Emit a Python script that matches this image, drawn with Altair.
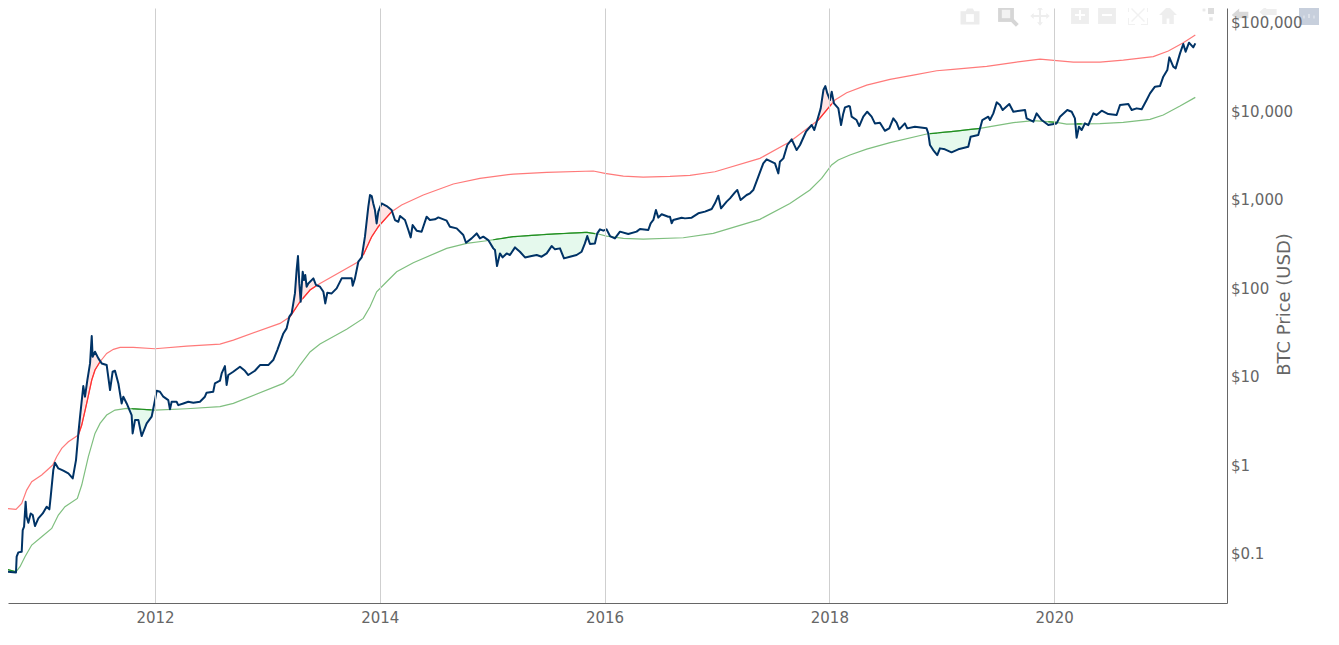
import altair as alt
import numpy as np
import pandas as pd

# Decimal year and log10(USD) values
price_year = [
    2010.63,2010.68,2010.763,2010.769,2010.784,2010.814,2010.823,2010.835,2010.849,2010.858,2010.873,2010.894,2010.912,2010.932,2010.962,
    2011.001,2011.036,2011.06,2011.072,2011.095,2011.11,2011.14,2011.184,2011.229,2011.268,2011.297,2011.318,2011.333,2011.362,2011.377,2011.398,2011.422,2011.437,2011.445,2011.466,2011.496,2011.526,2011.57,2011.6,2011.623,2011.644,2011.674,2011.703,2011.718,2011.748,2011.792,2011.801,2011.822,2011.852,2011.881,2011.926,2011.97,
    2012.0,2012.015,2012.044,2012.074,2012.118,2012.133,2012.148,2012.192,2012.207,2012.252,2012.296,2012.341,2012.4,2012.444,2012.459,2012.518,2012.533,2012.578,2012.593,2012.622,2012.637,2012.652,2012.696,2012.756,2012.8,2012.83,2012.889,2012.934,
    2013.008,2013.052,2013.088,2013.142,2013.171,2013.195,2013.216,2013.245,2013.26,2013.272,2013.284,2013.296,2013.314,2013.326,2013.337,2013.349,2013.364,2013.409,2013.432,2013.468,2013.498,2013.515,2013.533,2013.572,2013.616,2013.661,2013.75,2013.759,2013.779,2013.809,2013.839,2013.868,2013.898,2013.913,2013.928,2013.942,2013.957,2013.972,2013.987,
    2014.016,2014.061,2014.105,2014.135,2014.165,2014.18,2014.224,2014.254,2014.275,2014.292,2014.328,2014.372,2014.417,2014.446,2014.491,2014.521,2014.595,2014.624,2014.684,2014.743,2014.767,2014.817,2014.862,2014.891,2014.921,2014.965,
    2015.01,2015.025,2015.043,2015.069,2015.093,2015.129,2015.158,2015.203,2015.247,2015.292,2015.351,2015.396,2015.44,2015.485,2015.529,2015.559,2015.603,2015.639,2015.692,2015.751,2015.796,2015.825,2015.846,2015.87,2015.914,2015.935,2015.959,2015.989,
    2016.018,2016.048,2016.092,2016.137,2016.211,2016.285,2016.315,2016.389,2016.41,2016.434,2016.457,2016.478,2016.508,2016.567,2016.582,2016.597,2016.611,2016.686,2016.715,2016.775,2016.834,2016.893,2016.953,2016.982,
    2017.012,2017.036,2017.086,2017.116,2017.16,2017.181,2017.21,2017.264,2017.294,2017.323,2017.368,2017.412,2017.442,2017.516,2017.546,2017.56,2017.591,2017.626,2017.665,2017.709,2017.739,2017.792,2017.843,2017.866,2017.893,2017.923,2017.947,2017.964,2017.982,
    2018.006,2018.021,2018.041,2018.08,2018.104,2018.124,2018.139,2018.175,2018.183,2018.198,2018.242,2018.266,2018.302,2018.337,2018.376,2018.405,2018.45,2018.494,2018.533,2018.569,2018.598,2018.622,2018.672,2018.693,2018.761,2018.865,2018.88,2018.895,2018.924,2018.96,2018.984,
    2019.028,2019.087,2019.147,2019.236,2019.257,2019.325,2019.361,2019.414,2019.429,2019.459,2019.489,2019.518,2019.542,2019.601,2019.637,2019.741,2019.755,2019.815,2019.844,2019.889,2019.948,
    2020.022,2020.052,2020.117,2020.156,2020.185,2020.2,2020.221,2020.245,2020.274,2020.304,2020.349,2020.378,2020.423,2020.482,2020.556,2020.586,2020.66,2020.69,2020.734,2020.779,2020.823,2020.853,2020.897,2020.942,2020.971,
    2021.007,2021.025,2021.06,2021.081,2021.12,2021.149,2021.17,2021.2,2021.238,2021.256,
]
price_log = [
    -1.168,-1.206,-1.213,-1.036,-0.987,-0.98,-0.735,-0.697,-0.415,-0.584,-0.652,-0.547,-0.565,-0.69,-0.603,
    -0.547,-0.471,-0.501,-0.358,-0.057,0.026,-0.038,-0.064,-0.095,-0.151,0.056,0.357,0.546,0.892,0.772,0.96,1.148,1.457,1.224,1.28,1.205,1.148,1.13,0.847,1.054,1.066,0.922,0.696,0.772,0.696,0.565,0.357,0.508,0.508,0.327,0.47,0.546,
    0.734,0.84,0.828,0.772,0.734,0.629,0.715,0.715,0.677,0.696,0.715,0.704,0.715,0.772,0.817,0.828,0.922,0.953,1.035,1.118,0.904,1.017,1.054,1.111,1.065,1.017,1.065,1.129,
    1.129,1.186,1.299,1.487,1.544,1.676,1.713,1.939,2.203,2.361,2.052,1.845,2.184,2.09,2.147,2.015,2.052,2.109,2.034,2.015,1.958,1.826,1.947,1.939,1.996,2.109,2.109,2.026,2.109,2.297,2.346,2.58,2.919,3.051,3.039,2.956,2.881,2.73,2.862,
    2.956,2.926,2.881,2.768,2.749,2.813,2.768,2.655,2.572,2.711,2.648,2.636,2.806,2.768,2.776,2.798,2.761,2.693,2.674,2.599,2.512,2.561,2.617,2.561,2.58,2.542,
    2.448,2.429,2.248,2.391,2.346,2.391,2.373,2.459,2.41,2.346,2.361,2.373,2.354,2.391,2.474,2.437,2.448,2.335,2.354,2.373,2.41,2.504,2.587,2.497,2.504,2.617,2.663,2.648,
    2.663,2.587,2.561,2.637,2.61,2.637,2.667,2.656,2.731,2.769,2.882,2.795,2.833,2.806,2.806,2.731,2.769,2.795,2.787,2.795,2.844,2.863,2.893,2.957,
    3.043,2.9,2.976,3.013,3.081,3.108,2.994,3.051,3.07,3.107,3.258,3.408,3.454,3.408,3.295,3.427,3.465,3.616,3.68,3.559,3.616,3.766,3.842,3.785,3.898,4.03,4.237,4.282,4.199,
    4.124,4.218,4.086,4.03,3.842,3.973,4.041,4.056,4.049,3.936,3.898,3.83,3.936,3.992,3.936,3.86,3.868,3.777,3.804,3.917,3.868,3.793,3.86,3.804,3.823,3.804,3.747,3.616,3.559,3.502,3.578,
    3.567,3.533,3.567,3.597,3.71,3.729,3.898,3.936,3.898,3.973,4.098,4.068,4.011,4.079,3.992,4.011,3.917,3.879,3.973,3.898,3.842,
    3.86,3.936,4.011,3.992,3.917,3.698,3.823,3.785,3.86,3.841,3.973,3.955,4.004,3.966,3.955,4.068,4.079,4.011,4.03,4.019,4.124,4.199,4.275,4.282,4.388,
    4.463,4.606,4.501,4.482,4.651,4.757,4.67,4.772,4.719,4.764,
]
upper_year = [
    2010.63,2010.68,2010.763,2010.814,2010.858,2010.903,2010.992,2011.09,2011.125,2011.17,2011.229,2011.318,2011.348,2011.392,2011.437,2011.466,2011.511,2011.57,2011.63,2011.689,2011.807,
    2012.0,2012.282,2012.578,2012.697,2013.112,2013.201,2013.29,2013.379,2013.468,2013.809,2013.853,2013.928,2013.987,
    2014.105,2014.194,2014.387,2014.654,2014.891,2015.188,2015.485,2015.9,2016.003,2016.167,2016.344,2016.582,2016.76,2016.982,
    2017.382,2017.649,2017.902,2018.05,2018.154,2018.332,2018.54,2018.747,2018.955,2019.1,2019.4,2019.65,2019.874,
    2020.022,2020.171,2020.408,2020.615,2020.882,2021.016,2021.149,2021.256,
]
upper_log = [
    -0.464,-0.49,-0.501,-0.434,-0.283,-0.189,-0.113,0.0,0.094,0.188,0.263,0.339,0.452,0.696,0.96,1.073,1.167,1.261,1.307,1.329,1.329,
    1.314,1.344,1.367,1.412,1.6,1.676,1.845,1.977,2.052,2.297,2.373,2.58,2.693,
    2.862,2.938,3.051,3.175,3.239,3.288,3.307,3.322,3.295,3.265,3.254,3.261,3.273,3.314,
    3.465,3.653,3.898,4.124,4.207,4.293,4.358,4.406,4.455,4.47,4.505,4.55,4.587,
    4.569,4.553,4.553,4.576,4.614,4.678,4.772,4.859,
]
lower_year = [
    2010.63,2010.763,2010.799,2010.843,2010.903,2010.992,2011.081,2011.14,2011.199,2011.309,2011.348,2011.407,2011.466,2011.511,2011.57,2011.644,2011.748,
    2012.0,2012.282,2012.578,2012.697,2013.142,2013.23,2013.29,2013.379,2013.468,2013.705,2013.853,2013.913,2013.972,
    2014.061,2014.15,2014.298,2014.595,2014.773,2014.951,2015.188,2015.485,2015.84,2015.944,2016.018,2016.167,2016.344,2016.7,2016.967,
    2017.382,2017.649,2017.827,2017.931,2018.02,2018.079,2018.183,2018.332,2018.54,2018.866,2019.103,2019.34,2019.637,2019.815,
    2020.022,2020.111,2020.408,2020.615,2020.853,2020.971,2021.12,2021.256,
]
lower_log = [
    -1.161,-1.206,-1.149,-1.036,-0.904,-0.81,-0.716,-0.565,-0.471,-0.377,-0.226,0.094,0.357,0.47,0.565,0.621,0.64,
    0.621,0.636,0.659,0.696,0.922,1.017,1.13,1.277,1.367,1.533,1.657,1.789,1.958,
    2.071,2.184,2.286,2.448,2.504,2.534,2.58,2.606,2.629,2.61,2.587,2.561,2.553,2.568,2.617,
    2.776,2.956,3.107,3.239,3.39,3.446,3.503,3.57,3.642,3.74,3.77,3.804,3.868,3.891,
    3.872,3.853,3.857,3.872,3.906,3.955,4.056,4.154,
]
year_ticks = [2012, 2014, 2016, 2018, 2020]
price_ticks = [0.1, 1, 10, 100, 1000, 10000, 100000]

FONT = "DejaVu Sans"
TEXT = "#666666"
X_DOMAIN = [2010.692, 2021.538]
Y_DOMAIN = [10 ** -1.559, 10 ** 5.164]

price = pd.DataFrame({"year": price_year, "price": 10 ** np.array(price_log)})
upper = pd.DataFrame({"year": upper_year, "band": 10 ** np.array(upper_log)})
lower = pd.DataFrame({"year": lower_year, "band": 10 ** np.array(lower_log)})

# Shading between price and band, using both series' readings on a shared set of years
years = np.array(sorted(set(price_year) | set(upper_year) | set(lower_year)))
p = np.interp(years, price_year, price_log)
u = np.interp(years, upper_year, upper_log)
l = np.interp(years, lower_year, lower_log)
shade = pd.DataFrame({
    "year": years,
    "upper": 10 ** u,
    "upper_top": 10 ** np.maximum(p, u),
    "lower": 10 ** l,
    "lower_bot": 10 ** np.minimum(p, l),
    "upper_hi": np.where(p > u, 10 ** u, np.nan),
    "lower_hi": np.where(p < l, 10 ** l, np.nan),
})

xscale = alt.Scale(domain=X_DOMAIN, nice=False, zero=False)
yscale = alt.Scale(type="log", domain=Y_DOMAIN, nice=False)

x_axis = alt.Axis(values=year_ticks, format="d", title=None, grid=True, gridColor="#cfcfcf",
                  gridWidth=1, ticks=False, domain=True, domainColor="#666666", domainWidth=1,
                  labelFont=FONT, labelFontSize=15, labelColor=TEXT, labelPadding=7,
                  labelFlush=False, labelOverlap=False, zindex=1)
y_axis = alt.Axis(orient="right", values=price_ticks, grid=False, ticks=False, domain=True,
                  domainColor="#666666", domainWidth=1,
                  labelExpr="datum.value < 1 ? '$' + datum.value : '$' + format(datum.value, ',d')",
                  labelFont=FONT, labelFontSize=15, labelColor=TEXT, labelPadding=3.5,
                  labelOverlap=False, labelFlush=False, zindex=1,
                  title="BTC Price (USD)", titleFont=FONT, titleFontSize=18,
                  titleFontWeight="normal", titleColor=TEXT, titleAngle=270, titleX=57, titleY=296,
                  titleAlign="center", titleBaseline="middle")

x = alt.X("year:Q", scale=xscale, axis=x_axis)


def yy(field):
    return alt.Y(field, scale=yscale, axis=y_axis)


pink = alt.Chart(shade).mark_area(color="#ff0000", opacity=0.1, clip=True).encode(
    x=x, y=yy("upper:Q"), y2="upper_top:Q")
mint = alt.Chart(shade).mark_area(color="#00c850", opacity=0.1, clip=True).encode(
    x=x, y=yy("lower:Q"), y2="lower_bot:Q")
red_line = alt.Chart(upper).mark_line(color="#ff7a7a", strokeWidth=1.2, clip=True).encode(
    x=x, y=yy("band:Q"))
green_line = alt.Chart(lower).mark_line(color="#7fbf7f", strokeWidth=1.2, clip=True).encode(
    x=x, y=yy("band:Q"))
red_hi = alt.Chart(shade).mark_line(color="#ff3030", strokeWidth=1.2, clip=True).encode(
    x=x, y=yy("upper_hi:Q"))
green_hi = alt.Chart(shade).mark_line(color="#1f8f1f", strokeWidth=1.2, clip=True).encode(
    x=x, y=yy("lower_hi:Q"))
btc = alt.Chart(price).mark_line(color="#003366", strokeWidth=2, clip=True, strokeJoin="round").encode(
    x=x, y=yy("price:Q"))

# Faint toolbar glyphs in the top right corner: (page x, page y, size, colour, path)
SQ = "M-1,-1L1,-1L1,1L-1,1Z"
BAR_H = "M-1,-.2L1,-.2L1,.2L-1,.2Z"
BAR_V = "M-.2,-1L.2,-1L.2,1L-.2,1Z"
toolbar = [
    (970, 17, 360, "#ececec", "M-1,-.6L-.45,-.6L-.3,-.9L.3,-.9L.45,-.6L1,-.6L1,.8L-1,.8Z"),
    (970, 18, 60, "#ffffff", "M-1,-1L1,-1L1,1L-1,1Z"),
    (1006, 14, 250, "#d6d6d6", SQ),
    (1006, 14, 70, "#f2f2f2", SQ),
    (1014, 22, 90, "#d6d6d6", "M-1,-.4L-.4,-1L1,.4L.4,1Z"),
    (1040, 16, 380, "#eeeeee", "M0,-1L.3,-.65L.1,-.65L.1,-.1L.65,-.1L.65,-.3L1,0L.65,.3L.65,.1L.1,.1L.1,.65L.3,.65L0,1L-.3,.65L-.1,.65L-.1,.1L-.65,.1L-.65,.3L-1,0L-.65,-.3L-.65,-.1L-.1,-.1L-.1,-.65L-.3,-.65Z"),
    (1080, 15, 320, "#eeeeee", SQ),
    (1080, 15, 100, "#ffffff", BAR_H),
    (1080, 15, 100, "#ffffff", BAR_V),
    (1107, 15, 320, "#eeeeee", SQ),
    (1107, 15, 100, "#ffffff", BAR_H),
    (1138, 15, 400, "#f1f1f1", "M-1,-1L-.3,-1L-.3,-.9L-.9,-.9L-.9,-.3L-1,-.3ZM1,-1L1,-.3L.9,-.3L.9,-.9L.3,-.9L.3,-1ZM1,1L.3,1L.3,.9L.9,.9L.9,.3L1,.3ZM-1,1L-1,.3L-.9,.3L-.9,.9L-.3,.9L-.3,1ZM-.6,-.7L0,-.1L.6,-.7L.7,-.6L.1,0L.7,.6L.6,.7L0,.1L-.6,.7L-.7,.6L-.1,0L-.7,-.6Z"),
    (1168, 15, 320, "#eeeeee", "M0,-1L1,0L.65,0L.65,1L.15,1L.15,.4L-.15,.4L-.15,1L-.65,1L-.65,0L-1,0Z"),
    (1211, 11, 36, "#dddddd", SQ),
    (1211, 19, 12, "#e6e6e6", SQ),
    (1204, 10, 8, "#eaeaea", SQ),
    (1241, 15, 340, "#d9d9d9", "M-1,0L-.2,-.7L-.2,-.35L.8,-.35L.8,.35L-.2,.35L-.2,.7Z"),
    (1268, 12, 300, "#eeeeee", "M-1,0L-.2,-.7L-.2,-.35L1,-.35L1,.35L-.2,.35L-.2,.7Z"),
    (1309, 15, 400, "#c7cfdc", SQ),
    (1304, 17, 10, "#ffffff", BAR_V),
    (1309, 16, 16, "#ffffff", BAR_V),
    (1314, 17, 10, "#ffffff", BAR_V),
]
icon_layers = []
for gx, gy, gsize, gcolor, gpath in toolbar:
    icon_layers.append(
        alt.Chart(alt.Data(values=[{"k": 1}])).mark_point(
            shape=gpath, size=gsize, filled=True, color=gcolor, opacity=1, clip=False
        ).encode(x=alt.value(gx - 8), y=alt.value(gy - 8))
    )

chart = alt.layer(pink, mint, red_line, green_line, red_hi, green_hi, btc, *icon_layers).properties(
    width=1219, height=595,
    padding={"left": 0, "top": 0, "right": 104, "bottom": 36},
    autosize=alt.AutoSizeParams(type="none"),
).configure_view(stroke=None)

chart.save("out.html", embed_options={"renderer": "svg", "actions": False})
